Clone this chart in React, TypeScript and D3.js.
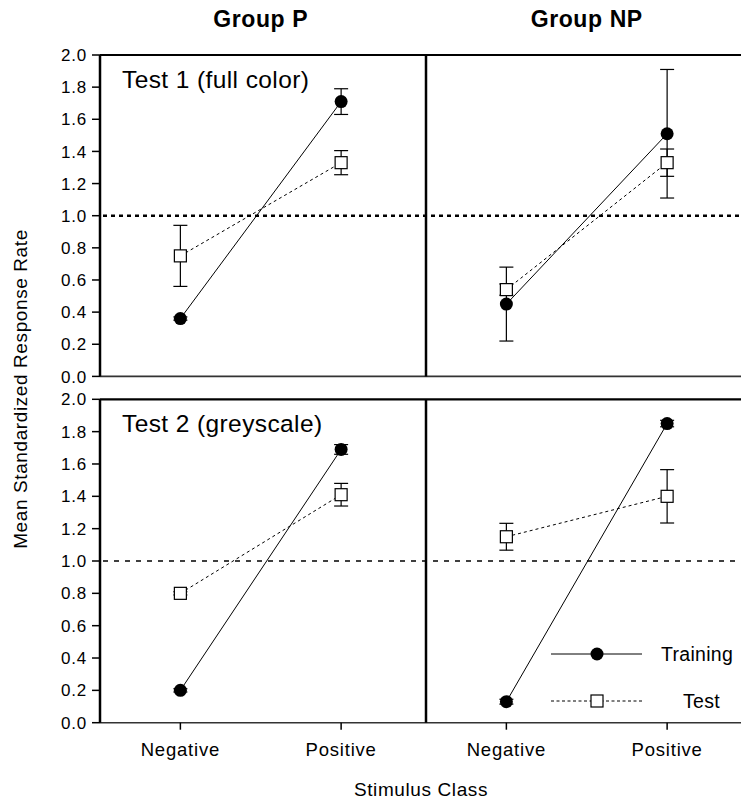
import React from 'react';
import * as d3 from 'd3';

const categories = ['Negative', 'Positive'];
const groupTitles = ['Group P', 'Group NP'];
const panelTitles = ['Test 1 (full color)', 'Test 2 (greyscale)'];
const yTicks = [0, 0.2, 0.4, 0.6, 0.8, 1.0, 1.2, 1.4, 1.6, 1.8, 2.0];
const referenceValue = 1.0;

// Test 1, Group P
const t1P_training = [0.36, 1.71];
const t1P_trainingErr = [0.01, 0.08];
const t1P_test = [0.75, 1.33];
const t1P_testErr = [0.19, 0.075];
// Test 1, Group NP
const t1NP_training = [0.45, 1.51];
const t1NP_trainingErr = [0.23, 0.4];
const t1NP_test = [0.54, 1.33];
const t1NP_testErr = [0.035, 0.085];
// Test 2, Group P
const t2P_training = [0.2, 1.69];
const t2P_trainingErr = [0.01, 0.03];
const t2P_test = [0.8, 1.41];
const t2P_testErr = [0.01, 0.07];
// Test 2, Group NP
const t2NP_training = [0.13, 1.85];
const t2NP_trainingErr = [0.015, 0.02];
const t2NP_test = [1.15, 1.4];
const t2NP_testErr = [0.083, 0.165];

const panels = [
  { row: 0, col: 0, tr: t1P_training, trE: t1P_trainingErr, te: t1P_test, teE: t1P_testErr },
  { row: 0, col: 1, tr: t1NP_training, trE: t1NP_trainingErr, te: t1NP_test, teE: t1NP_testErr },
  { row: 1, col: 0, tr: t2P_training, trE: t2P_trainingErr, te: t2P_test, teE: t2P_testErr },
  { row: 1, col: 1, tr: t2NP_training, trE: t2NP_trainingErr, te: t2NP_test, teE: t2NP_testErr },
];

const W = 741;
const H = 802;
const axisX = 100;
const divX = 426;
const rightX = 741;
const colStarts = [100, 426];
const colWidth = 321.5;
const rowRanges: [number, number][] = [
  [376.4, 55],
  [722.7, 399.3],
];
const FONT = '"Liberation Sans", Arial, Helvetica, sans-serif';

export default function App() {
  const xScales = colStarts.map((s) =>
    d3.scalePoint<string>().domain(categories).range([s, s + colWidth]).padding(0.5)
  );
  const yScales = rowRanges.map((r) => d3.scaleLinear().domain([0, 2]).range(r));
  const fmt = d3.format('.1f');
  const lineGen = (x: d3.ScalePoint<string>, y: d3.ScaleLinear<number, number>) =>
    d3
      .line<number>()
      .x((_, i) => x(categories[i]) as number)
      .y((d) => y(d));

  const sq = 6;
  const cap = 7;

  return (
    <div style={{ position: 'absolute', left: 0, top: 0 }}>
      <svg width={W} height={H} style={{ display: 'block', background: '#fff' }} fontFamily={FONT}>
        {groupTitles.map((g, i) => (
          <text
            key={g}
            x={colStarts[i] + colWidth / 2}
            y={27}
            textAnchor="middle"
            fontWeight="bold"
            fontSize={23}
            letterSpacing={0.6}
          >
            {g}
          </text>
        ))}

        {rowRanges.map((r, ri) => {
          const y = yScales[ri];
          const [bottom, top] = r;
          return (
            <g key={'row' + ri}>
              <line x1={axisX} x2={rightX} y1={top} y2={top} stroke="#000" strokeWidth={2.2} />
              <line x1={axisX} x2={rightX} y1={bottom} y2={bottom} stroke="#333" strokeWidth={1.6} />
              <line x1={axisX} x2={axisX} y1={top} y2={bottom} stroke="#000" strokeWidth={2.5} />
              <line x1={divX} x2={divX} y1={top} y2={bottom} stroke="#000" strokeWidth={2.5} />
              {yTicks.map((t) => (
                <g key={t}>
                  <line x1={axisX - 8} x2={axisX} y1={y(t)} y2={y(t)} stroke="#000" strokeWidth={1.5} />
                  <text
                    x={axisX - 13}
                    y={y(t)}
                    dy="0.36em"
                    textAnchor="end"
                    fontSize={17}
                    letterSpacing={0.8}
                  >
                    {fmt(t)}
                  </text>
                </g>
              ))}
              <line
                x1={axisX + 3}
                x2={rightX}
                y1={y(referenceValue)}
                y2={y(referenceValue)}
                stroke="#000"
                strokeWidth={ri === 0 ? 2.6 : 1.3}
                strokeDasharray={ri === 0 ? '4,4' : '5,6'}
              />
              <text x={122} y={ri === 0 ? 88 : 432} fontSize={24.5} letterSpacing={0.4}>
                {panelTitles[ri]}
              </text>
            </g>
          );
        })}

        {xScales.map((x, ci) =>
          categories.map((c) => (
            <g key={ci + c}>
              <line
                x1={x(c)}
                x2={x(c)}
                y1={rowRanges[1][0]}
                y2={rowRanges[1][0] + 7}
                stroke="#000"
                strokeWidth={1.5}
              />
              <text x={x(c)} y={756} textAnchor="middle" fontSize={18.5} letterSpacing={0.8}>
                {c}
              </text>
            </g>
          ))
        )}

        {panels.map((p, pi) => {
          const x = xScales[p.col];
          const y = yScales[p.row];
          const lg = lineGen(x, y);
          const errBars = (vals: number[], errs: number[], key: string) =>
            vals.map((v, i) => {
              const cx = x(categories[i]) as number;
              const hi = y(v + errs[i]);
              const lo = y(v - errs[i]);
              return (
                <g key={key + i} stroke="#000" strokeWidth={1.2}>
                  <line x1={cx} x2={cx} y1={hi} y2={lo} />
                  <line x1={cx - cap} x2={cx + cap} y1={hi} y2={hi} />
                  <line x1={cx - cap} x2={cx + cap} y1={lo} y2={lo} />
                </g>
              );
            });
          return (
            <g key={'p' + pi}>
              {errBars(p.tr, p.trE, 'tre')}
              {errBars(p.te, p.teE, 'tee')}
              <path d={lg(p.te) || ''} fill="none" stroke="#000" strokeWidth={1} strokeDasharray="3,3" />
              <path d={lg(p.tr) || ''} fill="none" stroke="#000" strokeWidth={1} />
              {p.te.map((v, i) => (
                <rect
                  key={'s' + i}
                  x={(x(categories[i]) as number) - sq}
                  y={y(v) - sq}
                  width={sq * 2}
                  height={sq * 2}
                  fill="#fff"
                  stroke="#000"
                  strokeWidth={1.2}
                />
              ))}
              {p.tr.map((v, i) => (
                <circle key={'c' + i} cx={x(categories[i]) as number} cy={y(v)} r={6.5} fill="#000" />
              ))}
            </g>
          );
        })}

        <g>
          <line x1={551} x2={642} y1={654} y2={654} stroke="#000" strokeWidth={1} />
          <circle cx={597} cy={654} r={6.5} fill="#000" />
          <text x={661} y={654} dy="0.36em" fontSize={19.5} letterSpacing={0.3}>
            Training
          </text>
          <line x1={551} x2={642} y1={701} y2={701} stroke="#000" strokeWidth={1} strokeDasharray="3,2.5" />
          <rect x={597 - sq} y={701 - sq} width={sq * 2} height={sq * 2} fill="#fff" stroke="#000" strokeWidth={1.2} />
          <text x={683} y={701} dy="0.36em" fontSize={19.5} letterSpacing={0.3}>
            Test
          </text>
        </g>

        <text x={421} y={796} textAnchor="middle" fontSize={19} letterSpacing={0.6}>
          Stimulus Class
        </text>
        <text
          transform={`translate(27, 389) rotate(-90)`}
          textAnchor="middle"
          fontSize={19}
          letterSpacing={0.6}
        >
          Mean Standardized Response Rate
        </text>
      </svg>
    </div>
  );
}
